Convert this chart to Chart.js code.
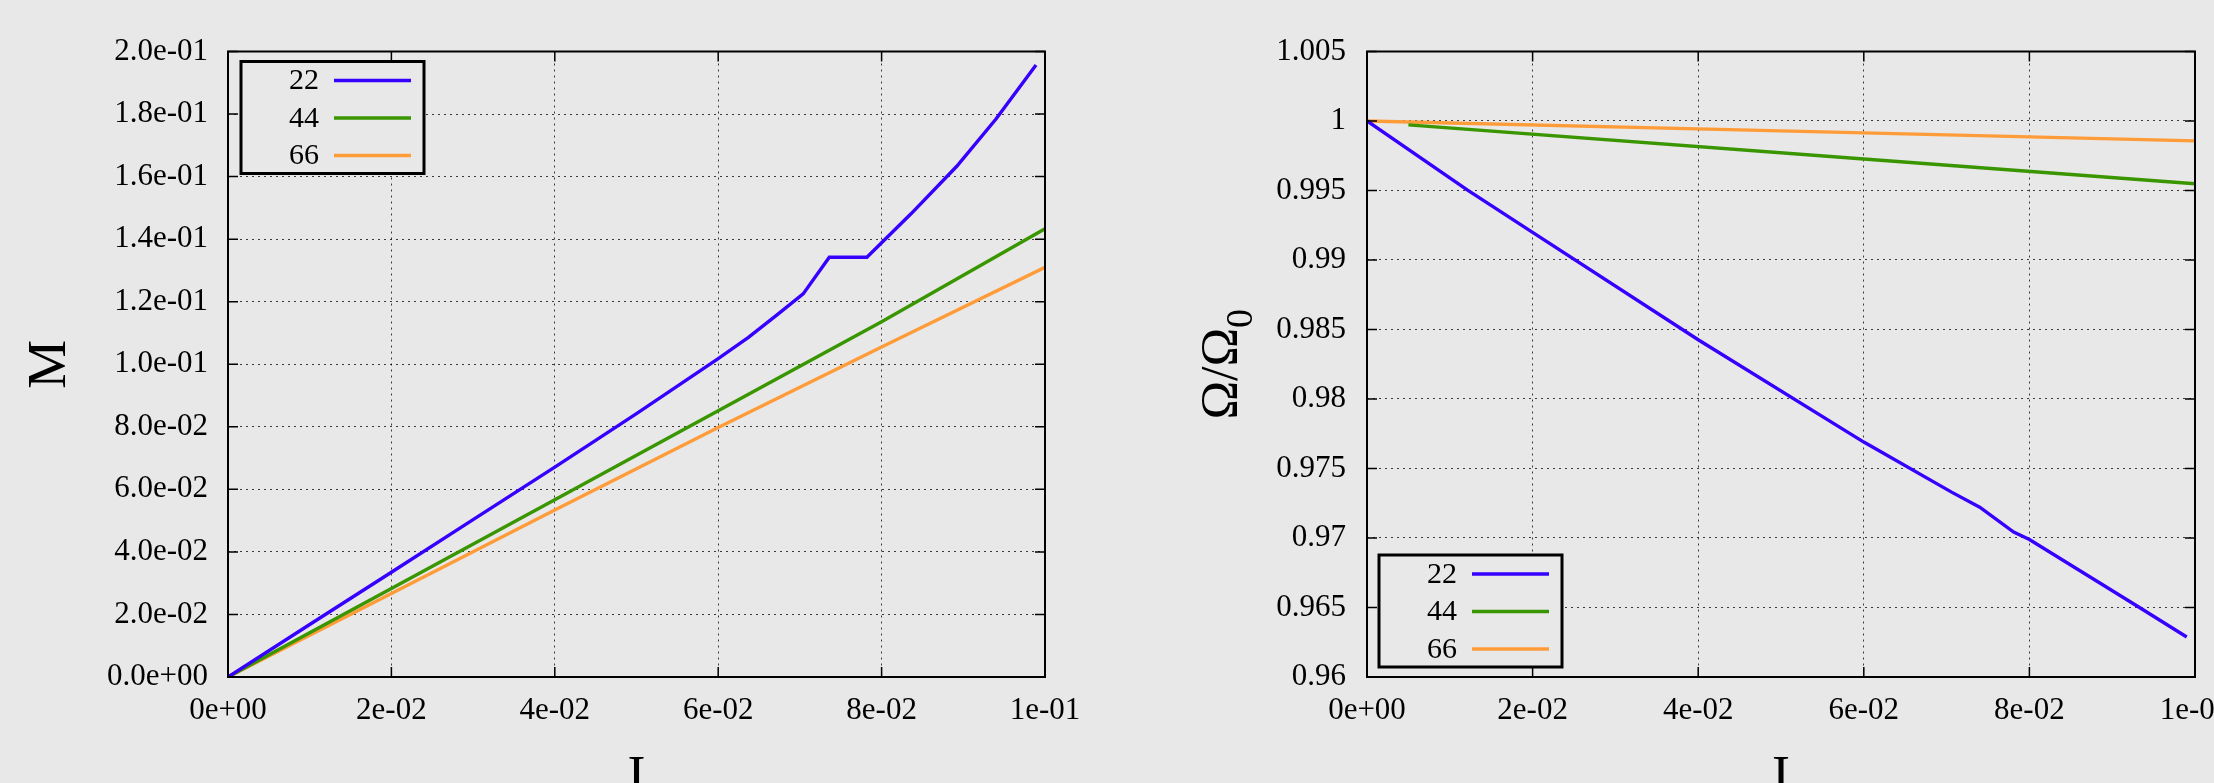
<!DOCTYPE html>
<html><head><meta charset="utf-8">
<script src="https://cdn.jsdelivr.net/npm/chart.js@4"></script>
<style>
html,body{margin:0;padding:0;background:#e8e8e8;overflow:hidden;width:2214px;height:783px}
canvas{position:absolute;top:0}
#c1{left:0px}
#c2{left:1107px}
</style></head><body>
<canvas id="c1" width="1107" height="783"></canvas>
<canvas id="c2" width="1107" height="783"></canvas>
<script>
// ---------- data ----------
const seriesNames = ['22', '44', '66'];

// Left chart: M vs I
const mX22 = [0, 0.01, 0.02, 0.03, 0.04, 0.05, 0.06, 0.0637, 0.0672, 0.0704, 0.0736, 0.0782, 0.0836, 0.0892, 0.094, 0.0989];
const mY22 = [0, 0.0168, 0.0335, 0.0503, 0.0671, 0.0842, 0.1018, 0.1086, 0.1158, 0.1225, 0.1342, 0.1342, 0.1481, 0.1633, 0.1784, 0.1957];
const mX44 = [0, 0.02, 0.04, 0.06, 0.08, 0.1];
const mY44 = [0, 0.0283, 0.0567, 0.0851, 0.1136, 0.1433];
const mX66 = [0, 0.02, 0.04, 0.06, 0.08, 0.1];
const mY66 = [0, 0.0267, 0.0534, 0.0798, 0.1055, 0.131];

// Right chart: Omega/Omega0 vs I
const oX22 = [0, 0.0121, 0.02, 0.04, 0.06, 0.0706, 0.074, 0.0781, 0.08, 0.0932, 0.099];
const oY22 = [1, 0.99504, 0.99199, 0.98426, 0.9769, 0.9733, 0.97222, 0.97043, 0.96989, 0.96504, 0.96288];
const oX44 = [0.005, 0.06, 0.1];
const oY44 = [0.99972, 0.99727, 0.99548];
const oX66 = [0, 0.05, 0.1];
const oY66 = [1.0, 0.99929, 0.99857];

// ticks
const xTickValues = [0, 0.02, 0.04, 0.06, 0.08, 0.1];
const xTickLabels = ['0e+00', '2e-02', '4e-02', '6e-02', '8e-02', '1e-01'];
const mTickValues = [0, 0.02, 0.04, 0.06, 0.08, 0.1, 0.12, 0.14, 0.16, 0.18, 0.2];
const mTickLabels = ['0.0e+00', '2.0e-02', '4.0e-02', '6.0e-02', '8.0e-02', '1.0e-01', '1.2e-01', '1.4e-01', '1.6e-01', '1.8e-01', '2.0e-01'];
const oTickValues = [0.96, 0.965, 0.97, 0.975, 0.98, 0.985, 0.99, 0.995, 1.0, 1.005];
const oTickLabels = ['0.96', '0.965', '0.97', '0.975', '0.98', '0.985', '0.99', '0.995', '1', '1.005'];

// ---------- styles ----------
const seriesColors = ['#3600ff', '#3a9600', '#ff9c3a'];
const BG = '#e8e8e8';
const FONT = "'Liberation Serif', 'Times New Roman', serif";

function pts(xs, ys) { return xs.map((x, i) => ({ x: x, y: ys[i] })); }

function makeDatasets(groups) {
  return groups.map((g, i) => ({
    label: seriesNames[i],
    data: pts(g[0], g[1]),
    borderColor: seriesColors[i],
    backgroundColor: seriesColors[i],
    borderWidth: 3.4,
    pointRadius: 0,
    showLine: true,
    tension: 0,
    fill: false
  }));
}

function decorPlugin(o) {
  return {
    id: 'decor',
    afterDatasetsDraw(chart) {
      const { ctx, chartArea: a, scales: { x, y } } = chart;
      ctx.save();
      // inward tick marks
      ctx.strokeStyle = '#000';
      ctx.lineWidth = 1.5;
      ctx.beginPath();
      x.ticks.forEach(t => {
        const p = x.getPixelForValue(t.value);
        ctx.moveTo(p, a.bottom); ctx.lineTo(p, a.bottom - 10);
        ctx.moveTo(p, a.top); ctx.lineTo(p, a.top + 10);
      });
      y.ticks.forEach(t => {
        const p = y.getPixelForValue(t.value);
        ctx.moveTo(a.left, p); ctx.lineTo(a.left + 10, p);
        ctx.moveTo(a.right, p); ctx.lineTo(a.right - 10, p);
      });
      ctx.stroke();
      // frame
      ctx.lineWidth = 2;
      ctx.strokeRect(a.left, a.top, a.right - a.left, a.bottom - a.top);

      // legend
      const bw = 183, bh = 112;
      const bx = a.left + o.legendDx;
      const by = o.legendBottom ? a.bottom - o.legendDy - bh : a.top + o.legendDy;
      ctx.fillStyle = BG;
      ctx.fillRect(bx, by, bw, bh);
      ctx.lineWidth = 3;
      ctx.strokeStyle = '#000';
      ctx.strokeRect(bx, by, bw, bh);
      const rows = [19, 56.5, 94];
      ctx.font = '30px ' + FONT;
      ctx.textAlign = 'right';
      ctx.textBaseline = 'middle';
      chart.data.datasets.forEach((ds, i) => {
        const ry = by + rows[i];
        ctx.fillStyle = '#000';
        ctx.fillText(ds.label, bx + 78, ry + 1);
        ctx.strokeStyle = ds.borderColor;
        ctx.lineWidth = 3.4;
        ctx.beginPath();
        ctx.moveTo(bx + 93, ry); ctx.lineTo(bx + 170, ry);
        ctx.stroke();
      });

      // axis titles
      ctx.fillStyle = '#000';
      const cy = (a.top + a.bottom) / 2;
      ctx.save();
      ctx.translate(o.yTitleX, cy);
      ctx.rotate(-Math.PI / 2);
      ctx.textBaseline = 'alphabetic';
      if (o.yTitleSub) {
        ctx.font = '52px ' + FONT;
        const w1 = ctx.measureText(o.yTitle).width;
        ctx.font = '38px ' + FONT;
        const w2 = ctx.measureText(o.yTitleSub).width;
        const start = -(w1 + w2) / 2;
        ctx.textAlign = 'left';
        ctx.font = '52px ' + FONT;
        ctx.fillText(o.yTitle, start, 0);
        ctx.font = '38px ' + FONT;
        ctx.fillText(o.yTitleSub, start + w1, 15);
      } else {
        ctx.font = '55px ' + FONT;
        ctx.textAlign = 'center';
        ctx.fillText(o.yTitle, 0, 0);
      }
      ctx.restore();
      ctx.font = '54px ' + FONT;
      ctx.textAlign = 'center';
      ctx.textBaseline = 'alphabetic';
      ctx.fillText(o.xTitle, (a.left + a.right) / 2, 793);
      ctx.restore();
    }
  };
}

function makeChart(id, datasets, yMin, yMax, yVals, yLabels, yWidth, yPad, rightPad, o) {
  return new Chart(document.getElementById(id), {
    type: 'scatter',
    data: { datasets: datasets },
    options: {
      responsive: false,
      animation: false,
      layout: { autoPadding: false, padding: { left: 0, right: rightPad, top: 51.5, bottom: 0 } },
      plugins: { legend: { display: false }, tooltip: { enabled: false } },
      scales: {
        x: {
          type: 'linear', min: 0, max: 0.1,
          afterBuildTicks: s => { s.ticks = xTickValues.map(v => ({ value: v })); },
          afterFit: s => { s.height = 106; s.paddingLeft = 0; s.paddingRight = 0; },
          ticks: {
            color: '#000', padding: 15, maxRotation: 0, autoSkip: false,
            font: { family: FONT, size: 31 },
            callback: (v, i) => xTickLabels[i]
          },
          grid: { color: 'rgba(0,0,0,0.75)', lineWidth: 1, drawTicks: false },
          border: { display: false, dash: [2, 4] }
        },
        y: {
          type: 'linear', min: yMin, max: yMax,
          afterBuildTicks: s => { s.ticks = yVals.map(v => ({ value: v })); },
          afterFit: s => { s.width = yWidth; s.paddingTop = 0; s.paddingBottom = 0; },
          ticks: {
            color: '#000', padding: yPad, autoSkip: false,
            font: { family: FONT, size: 31 },
            callback: (v, i) => yLabels[i]
          },
          grid: { color: 'rgba(0,0,0,0.75)', lineWidth: 1, drawTicks: false },
          border: { display: false, dash: [2, 4] }
        }
      }
    },
    plugins: [decorPlugin(o)]
  });
}

Chart.defaults.font.family = FONT;

makeChart('c1',
  makeDatasets([[mX22, mY22], [mX44, mY44], [mX66, mY66]]),
  0, 0.2, mTickValues, mTickLabels, 228, 20, 62,
  { legendDx: 13, legendDy: 10, legendBottom: false, yTitle: 'M', yTitleX: 65, xTitle: 'I' });

makeChart('c2',
  makeDatasets([[oX22, oY22], [oX44, oY44], [oX66, oY66]]),
  0.96, 1.005, oTickValues, oTickLabels, 260, 21, 19,
  { legendDx: 12, legendDy: 10, legendBottom: true, yTitle: 'Ω/Ω', yTitleSub: '0', yTitleX: 130, xTitle: 'I' });
</script>
</body></html>
